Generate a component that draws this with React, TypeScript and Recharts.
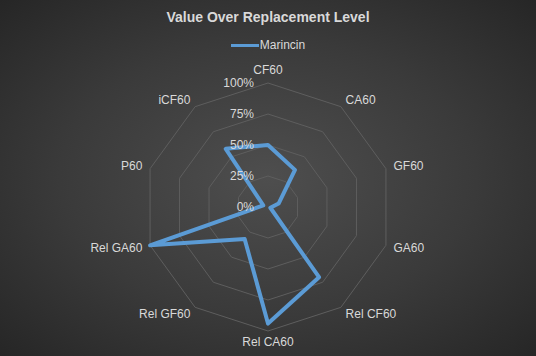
import React from 'react';
import { RadarChart, Radar, PolarGrid, PolarAngleAxis, PolarRadiusAxis, Legend } from 'recharts';

const categories = ['CF60', 'CA60', 'GF60', 'GA60', 'Rel CF60', 'Rel CA60', 'Rel GF60', 'Rel GA60', 'P60', 'iCF60'];
const marincin = [50, 37, 9, 2, 70, 94, 32, 100, 4, 58];
const radiusTicks = [0, 25, 50, 75, 100];

const data = categories.map((c, i) => ({ name: c, Marincin: marincin[i] }));

const TEXT = '#d9d9d9';
const BLUE = '#5b9bd5';
const FONT = '"Liberation Sans", Arial, sans-serif';

const AngleTick = (props: any) => {
  const { x, y, textAnchor, payload } = props;
  let dy = 0;
  if (textAnchor === 'middle') dy = y < 207 ? -5 : 3;
  return (
    <text x={x} y={y + dy} textAnchor={textAnchor} dominantBaseline="central" fill={TEXT} fontSize={12} fontFamily={FONT}>
      {payload.value}
    </text>
  );
};

const RadiusTick = (props: any) => {
  const { x, y, payload } = props;
  return (
    <text x={x - 14} y={y} textAnchor="end" dominantBaseline="central" fill={TEXT} fontSize={12} fontFamily={FONT}>
      {payload.value}%
    </text>
  );
};

const LegendContent = () => (
  <div style={{ display: 'flex', justifyContent: 'center', alignItems: 'center', fontFamily: FONT, fontSize: 12, color: TEXT }}>
    <span style={{ display: 'inline-block', width: 28, height: 3, background: BLUE, marginRight: 1 }} />
    <span>Marincin</span>
  </div>
);

export default function App() {
  return (
    <div
      style={{
        position: 'absolute',
        left: 0,
        top: 0,
        width: 536,
        height: 356,
        background: 'radial-gradient(ellipse at 50% 50%, #4e4e4e 0%, #3a3a3a 55%, #262626 100%)',
        overflow: 'hidden',
      }}
    >
      <div
        style={{
          position: 'absolute',
          top: 9,
          width: 536,
          textAlign: 'center',
          fontFamily: FONT,
          fontWeight: 'bold',
          fontSize: 14,
          color: TEXT,
        }}
      >
        Value Over Replacement Level
      </div>
      <RadarChart width={536} height={356} data={data} cx={268} cy={207} outerRadius={124} margin={{ top: 0, right: 0, bottom: 0, left: 0 }}>
        <PolarGrid gridType="polygon" radialLines={false} stroke="#5e5e5e" strokeWidth={1} />
        <PolarAngleAxis dataKey="name" tick={<AngleTick />} tickLine={false} axisLine={false} />
        <PolarRadiusAxis
          angle={90}
          domain={[0, 100]}
          ticks={radiusTicks}
          tickCount={5}
          tick={<RadiusTick />}
          axisLine={false}
          tickLine={false}
        />
        <Radar dataKey="Marincin" stroke={BLUE} strokeWidth={4} strokeLinejoin="round" fill="none" fillOpacity={0} isAnimationActive={false} dot={false} />
        <Legend content={<LegendContent />} verticalAlign="top" wrapperStyle={{ top: 38, left: 0, width: 536 }} />
      </RadarChart>
    </div>
  );
}
